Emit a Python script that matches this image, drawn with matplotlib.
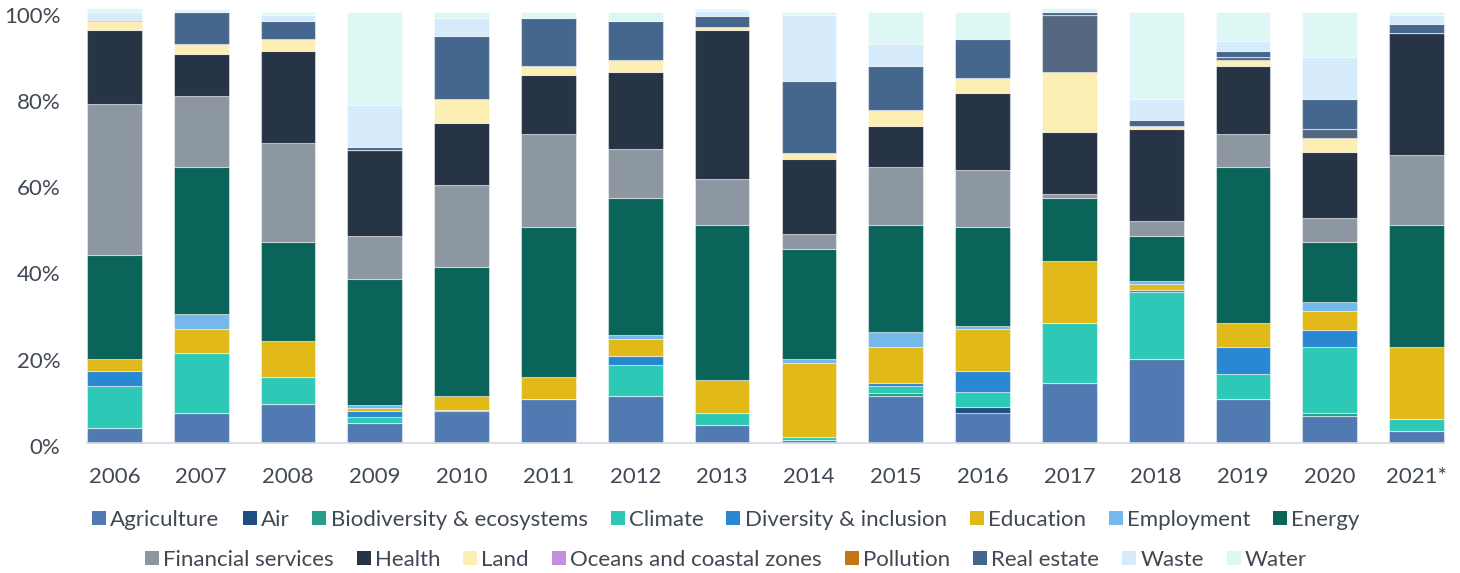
import numpy as np
import matplotlib
matplotlib.use("Agg")
import matplotlib.pyplot as plt
import matplotlib.transforms as mtransforms
from matplotlib.lines import Line2D

plt.rcParams['font.family'] = ['Lato', 'DejaVu Sans']

years = ["2006", "2007", "2008", "2009", "2010", "2011", "2012", "2013",
         "2014", "2015", "2016", "2017", "2018", "2019", "2020", "2021*"]

# Share of each theme per year (%), stacked bottom to top
agriculture = [3.5, 6.9, 9.0, 4.6, 7.5, 10.3, 11.0, 4.1, 0.6, 11.0, 6.9, 13.8, 19.5, 10.3, 6.2, 2.7]
air = [0, 0, 0, 0, 0, 0, 0, 0, 0, 0, 1.4, 0, 0, 0, 0, 0]
biodiversity = [0, 0, 0, 0, 0.2, 0, 0, 0, 0, 0.7, 0, 0, 0, 0, 0.7, 0]
climate = [9.8, 13.9, 6.3, 1.5, 0, 0, 7.1, 2.8, 0.7, 1.6, 3.5, 14.0, 15.4, 5.7, 15.3, 2.9]
diversity = [3.3, 0, 0, 1.3, 0, 0, 2.0, 0, 0, 0.6, 4.8, 0, 0.5, 6.2, 4.1, 0]
education = [2.9, 5.6, 8.3, 0.8, 3.3, 5.0, 4.1, 7.8, 17.3, 8.3, 9.8, 14.5, 1.4, 5.6, 4.3, 16.6]
employment = [0, 3.5, 0, 0.7, 0, 0, 0.8, 0, 0.8, 3.5, 0.7, 0, 0.7, 0, 2.0, 0]
energy = [24.2, 34.0, 22.9, 29.2, 29.9, 34.7, 31.9, 35.9, 25.5, 24.9, 22.9, 14.5, 10.4, 36.1, 13.9, 28.4]
financial = [34.8, 16.6, 23.0, 9.8, 18.9, 21.6, 11.2, 10.6, 3.6, 13.3, 13.2, 0.9, 3.5, 7.7, 5.6, 16.1]
health = [17.3, 9.8, 21.5, 20.1, 14.5, 13.8, 18.0, 34.6, 17.3, 9.7, 18.0, 14.5, 21.5, 15.8, 15.3, 28.4]
land = [2.1, 2.1, 2.7, 0, 5.5, 2.1, 2.7, 0.7, 1.4, 3.5, 3.5, 13.9, 0.7, 1.4, 3.4, 0]
other = [0, 0, 0, 0, 0, 0, 0, 0, 0, 0, 0, 13.2, 0, 0.8, 1.9, 0]
oceans = [0, 0, 0, 0, 0, 0, 0, 0, 0, 0, 0, 0, 0, 0, 0.2, 0]
pollution = [0, 0, 0, 0, 0, 0, 0, 0, 0, 0, 0, 0, 0, 0, 0, 0]
real_estate = [0.2, 7.6, 4.2, 0.7, 14.6, 11.1, 9.1, 2.6, 16.7, 10.4, 9.0, 0.7, 1.4, 1.4, 6.9, 2.1]
waste = [1.9, 0, 1.4, 9.7, 4.2, 0, 0, 1.1, 15.3, 4.9, 0, 0, 4.8, 2.1, 9.8, 2.1]
water = [0.8, 0.6, 0.7, 21.6, 1.4, 1.4, 2.1, 0.4, 0.7, 7.6, 6.3, 0.8, 20.2, 6.9, 10.4, 0.7]

series = [
    ("Agriculture", agriculture, "#517ab3"),
    ("Air", air, "#1f4e80"),
    ("Biodiversity & ecosystems", biodiversity, "#279c8c"),
    ("Climate", climate, "#2ec8b6"),
    ("Diversity & inclusion", diversity, "#2a88d2"),
    ("Education", education, "#e1b919"),
    ("Employment", employment, "#74b9ea"),
    ("Energy", energy, "#0a6459"),
    ("Financial services", financial, "#8d97a1"),
    ("Health", health, "#273445"),
    ("Land", land, "#fdeeb4"),
    (None, other, "#536780"),
    ("Oceans and coastal zones", oceans, "#c58fdb"),
    ("Pollution", pollution, "#c87518"),
    ("Real estate", real_estate, "#46678d"),
    ("Waste", waste, "#d6ebfc"),
    ("Water", water, "#ddf7f4"),
]

text_color = "#404854"

fig = plt.figure(figsize=(14.6, 5.73), dpi=100)
ax = fig.add_axes([87 / 1460, 1 - 443 / 573, (1444 - 87) / 1460, (443 - 11.7) / 573])

x = np.arange(len(years))
width = 0.63
bottom = np.zeros(len(years))
for name, vals, color in series:
    v = np.array(vals, dtype=float)
    bars = ax.bar(x, v, width, bottom=bottom, color=color,
                  edgecolor=(1, 1, 1, 0.45), linewidth=0.8, zorder=2)
    for b in bars:
        b.set_clip_on(False)
    bottom += v

ax.set_xlim(-width / 2, len(years) - 1 + width / 2)
ax.set_ylim(0, 100)
ax.set_yticks([0, 20, 40, 60, 80, 100])
ax.set_yticklabels(["0%", "20%", "40%", "60%", "80%", "100%"])
ax.set_xticks(x)
ax.set_xticklabels(years)
ax.tick_params(axis='both', length=0, labelsize=16, labelcolor=text_color)
ax.tick_params(axis='y', pad=19)
ax.tick_params(axis='x', pad=17.5)

# nudge the percentage labels slightly below their gridline level
shift = mtransforms.ScaledTranslation(0, -3 / 100, fig.dpi_scale_trans)
for lbl in ax.get_yticklabels():
    lbl.set_transform(lbl.get_transform() + shift)

for side in ("top", "right", "left"):
    ax.spines[side].set_visible(False)
ax.spines["bottom"].set_color("#d5dbe2")
ax.spines["bottom"].set_linewidth(1.2)
ax.spines["bottom"].set_zorder(3)

labelled = [(n, c) for n, _, c in series if n is not None]
handles = [Line2D([], [], linestyle='none', marker='s', markersize=10,
                  markerfacecolor=c, markeredgewidth=0, label=n) for n, c in labelled]

common = dict(frameon=False, ncol=8, fontsize=16, handlelength=0.7,
              handletextpad=0.15, columnspacing=1.0, labelcolor=text_color,
              borderaxespad=0, borderpad=0)
leg1 = fig.legend(handles=handles[:8], loc='center', bbox_to_anchor=(0.497, 1 - 520 / 573), **common)
leg2 = fig.legend(handles=handles[8:], loc='center', bbox_to_anchor=(0.497, 1 - 560 / 573), **common)

fig.savefig("out.png", dpi=100, facecolor="white")
